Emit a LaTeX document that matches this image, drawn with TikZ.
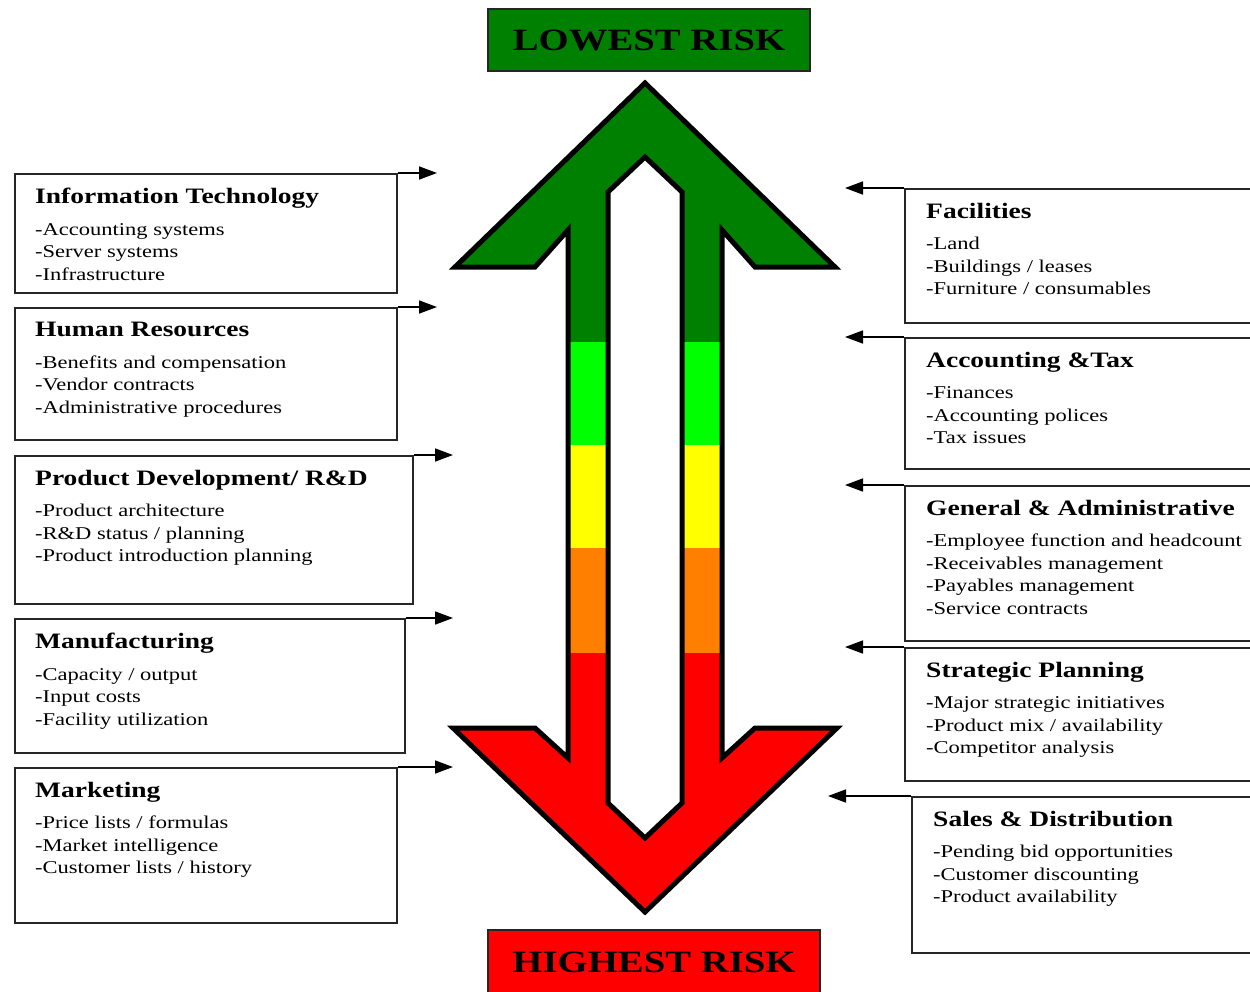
\documentclass[tikz,border=0pt]{standalone}
\usepackage{fontspec}
\setmainfont{Liberation Serif}[FakeStretch=1.25]
\usetikzlibrary{positioning,arrows.meta}

\definecolor{riskdkgreen}{RGB}{0,128,0}
\definecolor{riskgreen}{RGB}{0,255,0}
\definecolor{riskyellow}{RGB}{255,255,0}
\definecolor{riskorange}{RGB}{255,128,0}
\definecolor{riskred}{RGB}{255,0,0}

\tikzset{
  area/.style={draw=black!85,line width=1.6pt,rectangle,anchor=north west,inner sep=0pt},
  areatext/.style={align=left,inner sep=0pt,font=\fontsize{18}{22.5}\selectfont},
  feed/.style={line width=1.6pt,-{Triangle[length=18pt,width=13pt]}},
  riskbox/.style={draw=black!85,line width=1.2pt,minimum width=322pt,minimum height=62pt,font=\bfseries\fontsize{31}{31}\selectfont},
  rim/.style={line width=5pt,line join=miter}
}
\newcommand{\areahead}[1]{{\bfseries\fontsize{22}{22}\selectfont #1}\\[9pt]}

\begin{document}
\begin{tikzpicture}[x=1pt,y=-1pt]
\useasboundingbox (0,0) rectangle (1250,991);
\clip (0,0) rectangle (1250,991);

% double arrow, colour bands clipped to its outline
\path[save path=\riskpath] (645,83) -- (835,267) -- (755,267) -- (722,230) -- (722,758) -- (755,728) -- (837,728) -- (645,912) -- (453,728) -- (535,728) -- (568,758) -- (568,230) -- (535,267) -- (455,267) -- cycle;
\begin{scope}
  \path[clip,use path=\riskpath];
  \foreach \c/\ya/\yb in {riskdkgreen/80/342,riskgreen/342/445,riskyellow/445/548,riskorange/548/653,riskred/653/915}
    \fill[\c] (450,\ya) rectangle (840,\yb);
\end{scope}
\draw[rim,use path=\riskpath];
\filldraw[rim,fill=white] (645,157) -- (682,192) -- (682,803) -- (645,838) -- (608,803) -- (608,192) -- cycle;

\node[riskbox,fill=riskdkgreen] (low) at (649,40) {LOWEST RISK};
\node[riskbox,fill=riskred,minimum width=332pt,minimum height=64pt] (high) at (654,962) {HIGHEST RISK};

% left side
\node[area,minimum width=382pt,minimum height=119pt] (it) at (14,173) {};
\node[areatext,below right=15pt and 21pt of it.north west] (ittext) {\areahead{Information Technology}-Accounting systems\\-Server systems\\-Infrastructure};
\node[area,minimum width=382pt,minimum height=132pt] (hr) at (14,307) {};
\node[areatext,below right=15pt and 21pt of hr.north west] (hrtext) {\areahead{Human Resources}-Benefits and compensation\\-Vendor contracts\\-Administrative procedures};
\node[area,minimum width=398pt,minimum height=148pt] (pd) at (14,455) {};
\node[areatext,below right=15pt and 21pt of pd.north west] (pdtext) {\areahead{Product Development/ R\&D}-Product architecture\\-R\&D status / planning\\-Product introduction planning};
\node[area,minimum width=390pt,minimum height=134pt] (mfg) at (14,618) {};
\node[areatext,below right=15pt and 21pt of mfg.north west] (mfgtext) {\areahead{Manufacturing}-Capacity / output\\-Input costs\\-Facility utilization};
\node[area,minimum width=382pt,minimum height=155pt] (mkt) at (14,767) {};
\node[areatext,below right=15pt and 21pt of mkt.north west] (mkttext) {\areahead{Marketing}-Price lists / formulas\\-Market intelligence\\-Customer lists / history};

% right side, boxes run off the edge
\node[area,minimum width=400pt,minimum height=134pt] (fac) at (904,188) {};
\node[areatext,below right=15pt and 22pt of fac.north west] (factext) {\areahead{Facilities}-Land\\-Buildings / leases\\-Furniture / consumables};
\node[area,minimum width=400pt,minimum height=131pt] (tax) at (904,337) {};
\node[areatext,below right=15pt and 22pt of tax.north west] (taxtext) {\areahead{Accounting \&Tax}-Finances\\-Accounting polices\\-Tax issues};
\node[area,minimum width=400pt,minimum height=155pt] (ga) at (904,485) {};
\node[areatext,below right=15pt and 22pt of ga.north west] (gatext) {\areahead{General \& Administrative}-Employee function and headcount\\-Receivables management\\-Payables management\\-Service contracts};
\node[area,minimum width=400pt,minimum height=133pt] (sp) at (904,647) {};
\node[areatext,below right=15pt and 22pt of sp.north west] (sptext) {\areahead{Strategic Planning}-Major strategic initiatives\\-Product mix / availability\\-Competitor analysis};
\node[area,minimum width=400pt,minimum height=156pt] (sd) at (911,796) {};
\node[areatext,below right=15pt and 22pt of sd.north west] (sdtext) {\areahead{Sales \& Distribution}-Pending bid opportunities\\-Customer discounting\\-Product availability};

% feeds into the arrow
\coordinate (itend) at (437,173);
\coordinate (hrend) at (437,307);
\coordinate (pdend) at (453,455);
\coordinate (mfgend) at (453,618);
\coordinate (mktend) at (453,767);
\coordinate (facend) at (845,188);
\coordinate (taxend) at (845,337);
\coordinate (gaend) at (845,485);
\coordinate (spend) at (845,647);
\coordinate (sdend) at (828,796);
\foreach \n in {it,hr,pd,mfg,mkt}
  \draw[feed] (\n.north east) -- (\n end);
\foreach \n in {fac,tax,ga,sp,sd}
  \draw[feed] (\n.north west) -- (\n end);
\end{tikzpicture}
\end{document}
